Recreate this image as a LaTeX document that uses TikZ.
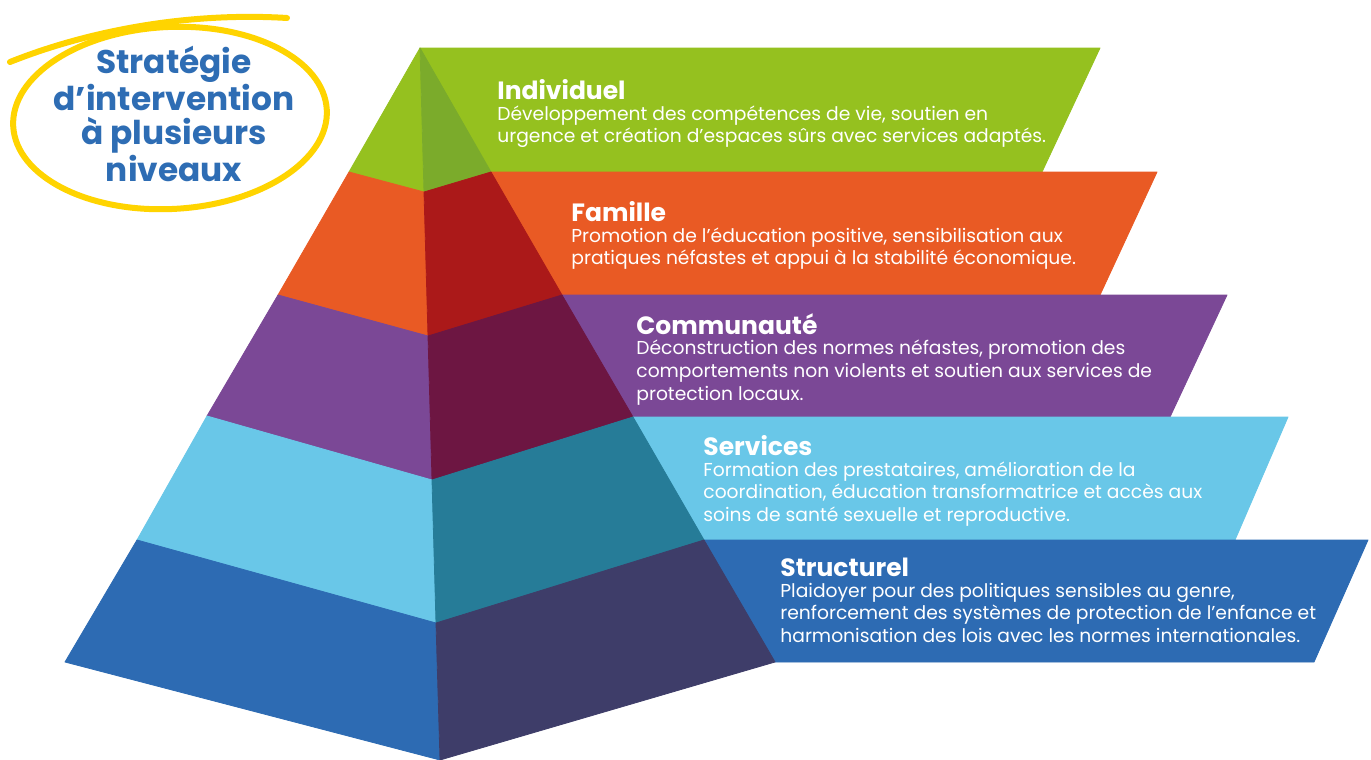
\documentclass[tikz,border=0pt]{standalone}
\usepackage{fontspec}
\setmainfont{Poppins}
\usetikzlibrary{positioning}
% level colours: light face / shaded face
\definecolor{greenL}{HTML}{95C11F}
\definecolor{greenD}{HTML}{7BAB2B}
\definecolor{orangeL}{HTML}{E95A24}
\definecolor{orangeD}{HTML}{AB1919}
\definecolor{purpleL}{HTML}{7B4896}
\definecolor{purpleD}{HTML}{6D1642}
\definecolor{skyL}{HTML}{69C7E8}
\definecolor{skyD}{HTML}{267C98}
\definecolor{blueL}{HTML}{2D6BB3}
\definecolor{blueD}{HTML}{3E3D69}
\definecolor{titleblue}{HTML}{2E6DB4}
\definecolor{ringyellow}{HTML}{FFD400}
\tikzset{
  face/.style={line width=0.4pt,line join=round},
  head/.style={anchor=north west,inner sep=0pt,text=white,
    font=\bfseries\fontsize{12.5}{14}\selectfont},
  body/.style={inner sep=0pt,text=white,align=left,
    font=\fontsize{9.35}{11.3}\selectfont},
  ring/.style={draw=ringyellow,line width=3pt,line cap=round}
}

\begin{document}
\begin{tikzpicture}[x=0.5pt,y=-0.5pt]
  \fill[white] (0,0) rectangle (1371,760);
  \useasboundingbox (0,0) rectangle (1371,760);

  % pyramid outline: left edge, ridge, right edge
  \coordinate (L0) at (420,48);  \coordinate (M0) at (420,48);  \coordinate (R0) at (420,48);
  \coordinate (L1) at (349,172); \coordinate (M1) at (424,192); \coordinate (R1) at (491,172);
  \coordinate (L2) at (278,295); \coordinate (M2) at (428,336); \coordinate (R2) at (562,295);
  \coordinate (L3) at (207,416); \coordinate (M3) at (432,480); \coordinate (R3) at (633,417);
  \coordinate (L4) at (137,540); \coordinate (M4) at (436,623); \coordinate (R4) at (704,540);
  \coordinate (L5) at (65,662);  \coordinate (M5) at (440,760); \coordinate (R5) at (775,662);
  % banner ends
  \coordinate (Bt1) at (1100,48);  \coordinate (Bb1) at (1042,172);
  \coordinate (Bt2) at (1157,172); \coordinate (Bb2) at (1100,295);
  \coordinate (Bt3) at (1227,295); \coordinate (Bb3) at (1170,417);
  \coordinate (Bt4) at (1288,417); \coordinate (Bb4) at (1235,540);
  \coordinate (Bt5) at (1368,540); \coordinate (Bb5) at (1314,662);

  \foreach \i/\j/\lt/\dk in {1/0/greenL/greenD,2/1/orangeL/orangeD,
      3/2/purpleL/purpleD,4/3/skyL/skyD,5/4/blueL/blueD}{
    \filldraw[face,fill=\lt,draw=\lt] (R\j) -- (Bt\i) -- (Bb\i) -- (R\i) -- cycle;
    \filldraw[face,fill=\lt,draw=\lt] (L\j) -- (L\i) -- (M\i) -- (M\j) -- cycle;
    \filldraw[face,fill=\dk,draw=\dk] (M\j) -- (M\i) -- (R\i) -- (R\j) -- cycle;
  }

  % level texts
  \node[head] (indH) at (497,79) {Individuel};
  \node[body,below right=2.5pt and 0pt of indH.south west] (indB)
    {Développement des compétences de vie, soutien en\\
     urgence et création d’espaces sûrs avec services adaptés.};
  \node[head] (famH) at (571,201) {Famille};
  \node[body,below right=2.5pt and 0pt of famH.south west] (famB)
    {Promotion de l’éducation positive, sensibilisation aux\\
     pratiques néfastes et appui à la stabilité économique.};
  \node[head] (comH) at (636,313) {Communauté};
  \node[body,below right=2.5pt and 0pt of comH.south west] (comB)
    {Déconstruction des normes néfastes, promotion des\\
     comportements non violents et soutien aux services de\\
     protection locaux.};
  \node[head] (serH) at (703,435) {Services};
  \node[body,below right=2.5pt and 0pt of serH.south west] (serB)
    {Formation des prestataires, amélioration de la\\
     coordination, éducation transformatrice et accès aux\\
     soins de santé sexuelle et reproductive.};
  \node[head] (strH) at (780,558) {Structurel};
  \node[body,below right=2.5pt and 0pt of strH.south west] (strB)
    {Plaidoyer pour des politiques sensibles au genre,\\
     renforcement des systèmes de protection de l’enfance et\\
     harmonisation des lois avec les normes internationales.};

  % circled title
  \node[align=center,text=titleblue,font=\bfseries\fontsize{16.4}{17.3}\selectfont]
    (title) at (174,114) {Stratégie\\d’intervention\\à plusieurs\\niveaux};
  \draw[ring,rotate around={3:(170,118)}] (170,118) ellipse [x radius=78.5pt,y radius=45.5pt];
  \draw[ring] (10,62) .. controls (90,30) and (190,12) .. (287,18);
\end{tikzpicture}
\end{document}
